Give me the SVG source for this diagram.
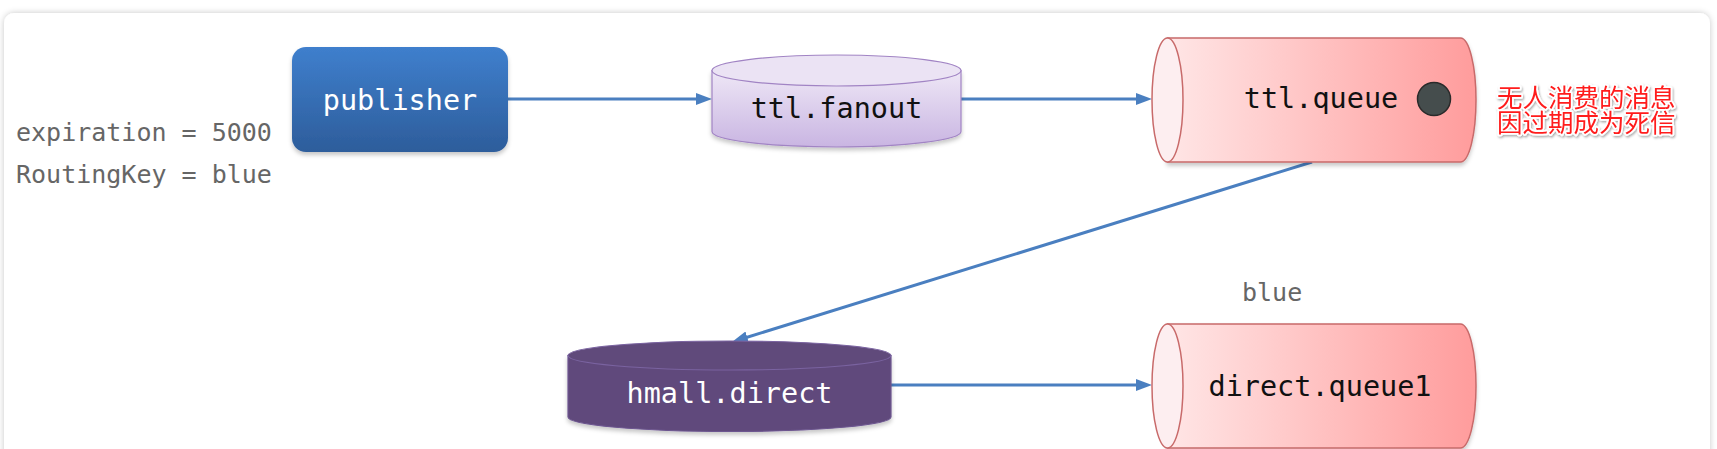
<svg xmlns="http://www.w3.org/2000/svg" width="1717" height="449" viewBox="0 0 1717 449">
  <defs>
    <linearGradient id="gPub" x1="0" y1="0" x2="0" y2="1">
      <stop offset="0" stop-color="#3f7fcd"/>
      <stop offset="1" stop-color="#2d5d9b"/>
    </linearGradient>
    <linearGradient id="gFan" x1="0" y1="0" x2="0" y2="1">
      <stop offset="0" stop-color="#eee7f6"/>
      <stop offset="1" stop-color="#c9b5e2"/>
    </linearGradient>
    <linearGradient id="gQ" x1="0" y1="0" x2="1" y2="0">
      <stop offset="0" stop-color="#ffe6e6"/>
      <stop offset="1" stop-color="#ff9c9c"/>
    </linearGradient>
    <filter id="cardShadow" x="-5%" y="-10%" width="110%" height="130%">
      <feDropShadow dx="0" dy="0" stdDeviation="3" flood-color="#000" flood-opacity="0.22"/>
    </filter>
    <filter id="shadow" x="-10%" y="-20%" width="120%" height="150%">
      <feDropShadow dx="0" dy="3" stdDeviation="2" flood-color="#000" flood-opacity="0.22"/>
    </filter>
    <filter id="redGlow" x="-10%" y="-20%" width="120%" height="150%">
      <feDropShadow dx="1" dy="1.5" stdDeviation="1" flood-color="#000" flood-opacity="0.35"/>
    </filter>
    <marker id="arrow" markerUnits="userSpaceOnUse" markerWidth="16" markerHeight="12" viewBox="0 0 16 12" refX="6" refY="6" orient="auto">
      <path d="M0,0 L16,6 L0,12 Z" fill="#4a7fc0"/>
    </marker>
    <style>
      .mono { font-family: "DejaVu Sans Mono", "Liberation Mono", monospace; }
      .node { font-size: 28.5px; text-anchor: middle; }
      .note { font-size: 25px; fill: #666666; }
      .conn { stroke: #4a7fc0; stroke-width: 3; fill: none; marker-end: url(#arrow); }
      .qbody { fill: url(#gQ); stroke: #c86a6a; stroke-width: 1.5; }
      .qend { fill: #fdeef0; stroke: #c86a6a; stroke-width: 1.5; }
      .red { font-family: "Noto Sans CJK SC", "Noto Sans", sans-serif; font-size: 25.5px; fill: #ff1a1a; stroke: #ffffff; stroke-width: 3.5; paint-order: stroke; stroke-linejoin: round; }
    </style>
  </defs>

  <rect x="0" y="0" width="1717" height="449" fill="#ffffff"/>
  <rect x="4" y="13" width="1706" height="470" rx="10" fill="#ffffff" filter="url(#cardShadow)"/>

  <g id="connectors">
    <line class="conn" x1="508" y1="99" x2="702" y2="99"/>
    <line class="conn" x1="961" y1="99" x2="1142" y2="99"/>
    <line class="conn" x1="1312" y1="162" x2="741.5" y2="339"/>
    <line class="conn" x1="891" y1="385" x2="1142" y2="385"/>
  </g>

  <g id="labels">
    <text class="mono note" x="16" y="141">expiration = 5000</text>
    <text class="mono note" x="16" y="183">RoutingKey = blue</text>
    <text class="mono note" x="1242" y="301">blue</text>
  </g>

  <g id="publisher">
    <rect x="292" y="47" width="216" height="105" rx="14" fill="url(#gPub)" filter="url(#shadow)"/>
    <text class="mono node" x="400" y="110" fill="#ffffff">publisher</text>
  </g>

  <g id="ttl-fanout">
    <path d="M712,70.5 L712,131.5 A124.5,15.5 0 0 0 961,131.5 L961,70.5 Z" fill="url(#gFan)" stroke="#a184c4" stroke-width="1.2" filter="url(#shadow)"/>
    <ellipse cx="836.5" cy="70.5" rx="124.5" ry="15.5" fill="#ebe3f4" stroke="#a184c4" stroke-width="1.2"/>
    <text class="mono node" x="836.5" y="118" fill="#111111">ttl.fanout</text>
  </g>

  <g id="ttl-queue">
    <path class="qbody" d="M1167.5,38 L1460.5,38 A15.5,62 0 0 1 1460.5,162 L1167.5,162 Z" filter="url(#shadow)"/>
    <ellipse class="qend" cx="1167.5" cy="100" rx="15.5" ry="62"/>
    <text class="mono node" x="1321" y="108" fill="#111111">ttl.queue</text>
    <circle cx="1434" cy="99" r="16.5" fill="#454d4d" stroke="#2a2a2a" stroke-width="1.5"/>
  </g>

  <g id="dead-letter-note" filter="url(#redGlow)">
    <text class="red" x="1497" y="107">无人消费的消息</text>
    <text class="red" x="1497" y="132">因过期成为死信</text>
  </g>

  <g id="hmall-direct">
    <path d="M568,355.5 L568,417 A161.5,14.5 0 0 0 891,417 L891,355.5 Z" fill="#604a7b" stroke="#6d5690" stroke-width="1.2" filter="url(#shadow)"/>
    <ellipse cx="729.5" cy="355.5" rx="161.5" ry="14.5" fill="#604a7b" stroke="#7a63a0" stroke-width="1.2"/>
    <text class="mono node" x="729.5" y="403" fill="#ffffff">hmall.direct</text>
  </g>

  <g id="direct-queue1">
    <path class="qbody" d="M1167.5,324 L1460.5,324 A15.5,62 0 0 1 1460.5,448 L1167.5,448 Z" filter="url(#shadow)"/>
    <ellipse class="qend" cx="1167.5" cy="386" rx="15.5" ry="62"/>
    <text class="mono node" x="1320" y="396" fill="#111111">direct.queue1</text>
  </g>
</svg>
